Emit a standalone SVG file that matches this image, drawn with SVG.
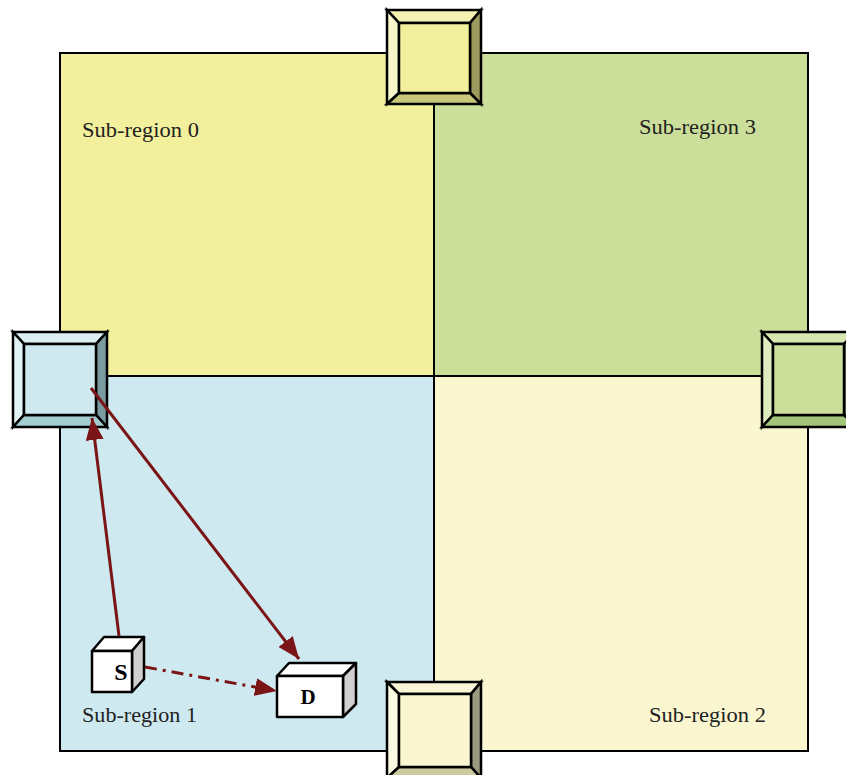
<svg xmlns="http://www.w3.org/2000/svg" width="846" height="775" viewBox="0 0 846 775">
<style>
.lbl{font-family:"Liberation Serif","DejaVu Serif",serif;font-size:21px;fill:#222}
.bx{stroke:#000;stroke-width:2.5;stroke-linejoin:miter}
.arr{stroke:#7B1416;stroke-width:3;fill:none}
.cube{stroke:#000;stroke-width:2.5;stroke-linejoin:round}
.cl{font-family:"Liberation Serif","DejaVu Serif",serif;font-weight:bold;fill:#000;text-anchor:middle}
</style>
<defs>
<marker id="ah" viewBox="0 0 22 18" refX="22" refY="9" markerWidth="22" markerHeight="18" markerUnits="userSpaceOnUse" orient="auto">
<path d="M0,0 L22,9 L0,18 Z" fill="#7B1416"/>
</marker>
</defs>
<rect width="846" height="775" fill="#fff"/>
<g id="regions">
<rect x="60" y="53" width="374" height="323" fill="#F2F09C"/>
<rect x="434" y="53" width="374" height="323" fill="#CCDF9A"/>
<rect x="60" y="376" width="374" height="375" fill="#CEEAF0"/>
<rect x="434" y="376" width="374" height="375" fill="#FAF7D0"/>
<rect x="60" y="53" width="748" height="698" fill="none" stroke="#000" stroke-width="2"/>
<line x1="434" y1="53" x2="434" y2="751" stroke="#000" stroke-width="2"/>
<line x1="60" y1="376" x2="808" y2="376" stroke="#000" stroke-width="2"/>
</g>
<g id="labels">
<text class="lbl" x="82" y="137" textLength="117" lengthAdjust="spacingAndGlyphs">Sub-region 0</text>
<text class="lbl" x="639" y="134" textLength="117" lengthAdjust="spacingAndGlyphs">Sub-region 3</text>
<text class="lbl" x="82" y="722" textLength="115" lengthAdjust="spacingAndGlyphs">Sub-region 1</text>
<text class="lbl" x="649" y="722" textLength="117" lengthAdjust="spacingAndGlyphs">Sub-region 2</text>
</g>
<g id="gate-top" class="bx">
<polygon points="387,10 481,10 470,23 399,23" fill="#F4F2B2"/>
<polygon points="387,10 399,23 399,93 387,104" fill="#F8F7CC"/>
<polygon points="481,10 481,104 470,93 470,23" fill="#9C9A5C"/>
<polygon points="387,104 399,93 470,93 481,104" fill="#C8C679"/>
<rect x="399" y="23" width="71" height="70" fill="#F2F09C"/>
</g>
<g id="gate-left" class="bx">
<polygon points="13,332 107,332 96,344 24,344" fill="#DBEFF3"/>
<polygon points="13,332 24,344 24,415 13,427" fill="#E2F3F6"/>
<polygon points="107,332 107,427 96,415 96,344" fill="#7A9B9F"/>
<polygon points="13,427 24,415 96,415 107,427" fill="#A3CDD0"/>
<rect x="24" y="344" width="72" height="71" fill="#CEEAF0"/>
</g>
<g id="gate-right" class="bx">
<polygon points="762,332 856,332 844,344 773,344" fill="#D7E7B0"/>
<polygon points="762,332 773,344 773,415 762,427" fill="#DEEBBE"/>
<polygon points="856,332 856,427 844,415 844,344" fill="#7E9458"/>
<polygon points="762,427 773,415 844,415 856,427" fill="#A2C57A"/>
<rect x="773" y="344" width="71" height="71" fill="#CCDF9A"/>
</g>
<g id="gate-bottom" class="bx">
<polygon points="387,682 481,682 471,694 399,694" fill="#F8F6D6"/>
<polygon points="387,682 399,694 399,767 387,778" fill="#FBFAE2"/>
<polygon points="481,682 481,778 471,767 471,694" fill="#9C9A7E"/>
<polygon points="387,778 399,767 471,767 481,778" fill="#CCCBA0"/>
<rect x="399" y="694" width="72" height="73" fill="#FAF7D0"/>
</g>
<g id="node-S" class="cube">
<polygon points="92,651 104,637 144,637 132,651" fill="#fff"/>
<polygon points="132,651 144,637 144,679 132,692" fill="#D0D0D0"/>
<rect x="92" y="651" width="40" height="41" fill="#fff"/>
<text class="cl" x="121" y="680" stroke="none" font-size="24">S</text>
</g>
<g id="node-D" class="cube">
<polygon points="277,676 289,663 356,663 343,676" fill="#fff"/>
<polygon points="343,676 356,663 356,704 343,717" fill="#D0D0D0"/>
<rect x="277" y="676" width="66" height="41" fill="#fff"/>
<text class="cl" x="308" y="704" stroke="none" font-size="21">D</text>
</g>
<g id="connectors">
<line class="arr" x1="119" y1="636" x2="92" y2="418" marker-end="url(#ah)"/>
<line class="arr" x1="91" y1="388" x2="299" y2="659" marker-end="url(#ah)"/>
<line class="arr" x1="145" y1="667" x2="277" y2="691" stroke-dasharray="12,6,3,6" marker-end="url(#ah)"/>
</g>
</svg>
